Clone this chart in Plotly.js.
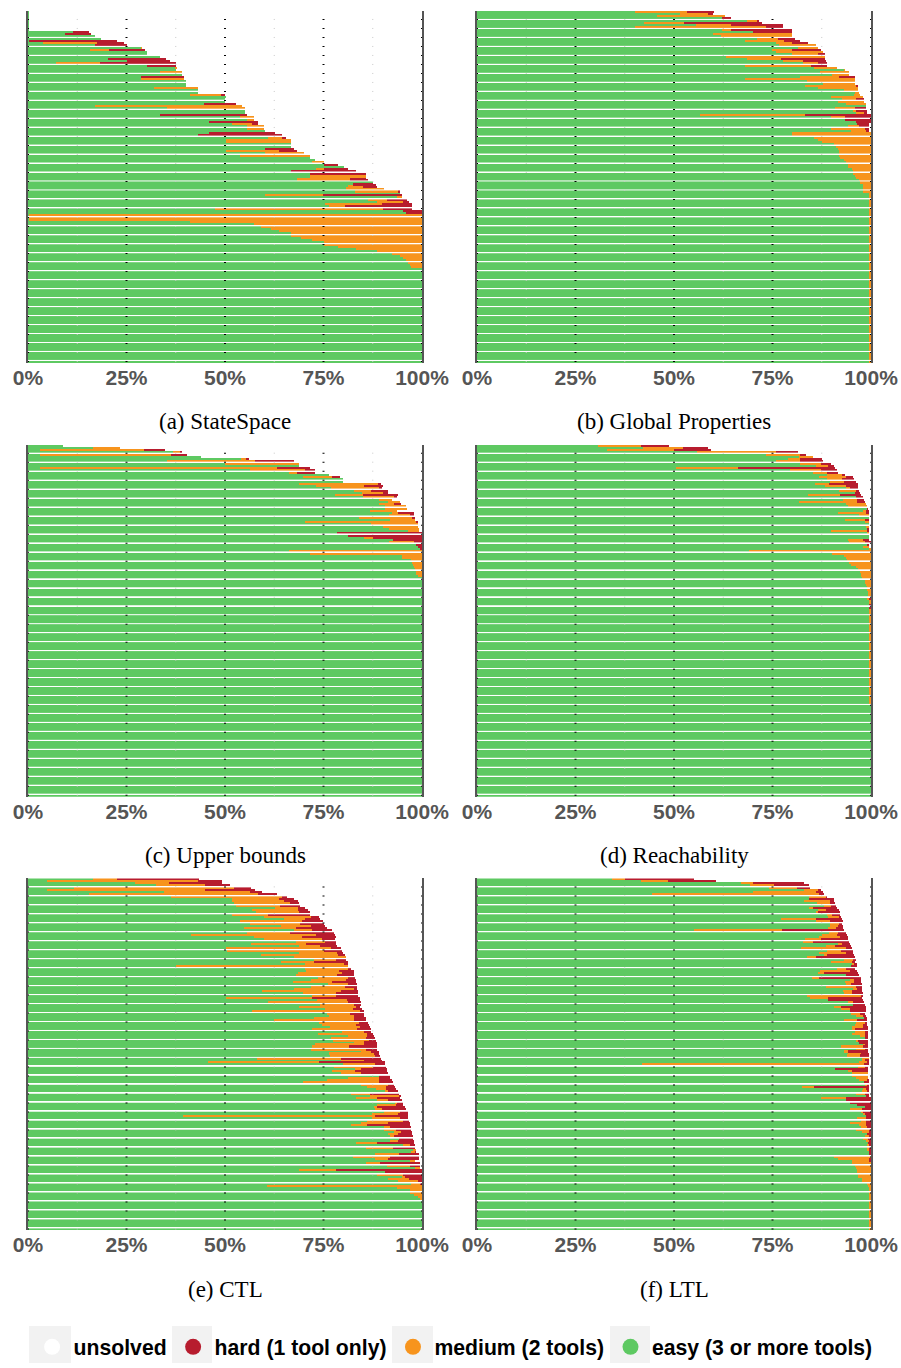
<!DOCTYPE html>
<html><head><meta charset="utf-8">
<script src="https://cdn.plot.ly/plotly-3.0.1.min.js"></script>
<style>html,body{margin:0;padding:0;background:#fff;}#chart{width:901px;height:1368px;}</style>
</head><body><div id="chart"></div>
<script>
const panelTitles = ['(a) StateSpace','(b) Global Properties','(c) Upper bounds','(d) Reachability','(e) CTL','(f) LTL'];
const legendLabels = ['unsolved','hard (1 tool only)','medium (2 tools)','easy (3 or more tools)'];
const xTickValues = [0,25,50,75,100];
const xTickLabels = ['0%','25%','50%','75%','100%'];

// (a) StateSpace
const stateSpaceEasy = [
0.3,0.3,0.3,0.3,0.3,0.3,0.3,0.3,0.3,11.3,
9.3,16.9,18.4,0.3,3.8,16.9,28.8,15.7,30.1,30.1,
33.4,20.2,25.0,7.0,30.1,37.5,37.5,33.4,39.0,28.8,
28.6,40.0,40.0,40.0,32.1,43.1,43.1,41.0,50.2,49.9,
49.9,44.6,16.9,35.2,55.0,55.0,33.4,53.7,55.5,45.9,
51.7,55.5,55.5,60.1,45.9,43.1,60.8,50.2,50.2,66.7,
66.7,60.1,50.2,60.1,53.7,71.5,72.8,72.0,75.0,80.1,
73.0,66.7,71.5,71.5,71.5,68.2,87.5,82.4,81.1,80.6,
82.9,94.3,60.1,93.6,86.2,88.5,75.3,76.3,47.4,95.3,
95.9,0.3,0.3,0.3,41.0,57.3,59.1,61.6,63.6,66.7,
66.7,69.2,72.0,75.0,75.0,78.8,83.2,88.7,92.3,94.3,
95.3,95.9,96.4,96.9,97.1,100,100,100,100,100,
100,100,100,100,100,100,100,100,100,100,
100,100,100,100,100,100,100,100,100,100,
100,100,100,100,100,100,100,100,100,100,
100,100,100,100,100,100,100];
const stateSpaceMedium = [
0,0,0,0,0,0,0,0,0,0,
0,0,0,0,13.6,0,0.2,4.8,0,0,
0,0,0,11.2,0,0.2,0,5.6,0,0,
10.9,0,0,0,11.0,0,0,7.9,0,0,
0,0,37.3,19.8,0,0,0,3.6,1.8,0,
5.1,4.3,4.3,0,0,0,3.6,16.5,16.5,0,
0,0,13.4,9.9,17.8,0,0,3.0,0,0,
2.0,0,0,14.2,14.2,13.4,0,0,3.8,9.7,
11.2,0,14.7,1.2,4.8,6.8,14.5,4.1,42.6,0,
0,99.7,99.7,99.7,59.0,42.7,40.9,38.4,36.4,33.3,
33.3,30.8,28.0,25.0,25.0,21.2,16.8,11.3,7.7,5.7,
4.7,4.1,3.6,3.1,2.9,0,0,0,0,0,
0,0,0,0,0,0,0,0,0,0,
0,0,0,0,0,0,0,0,0,0,
0,0,0,0,0,0,0,0,0,0,
0,0,0,0,0,0,0];
const stateSpaceHard = [
0,0,0,0,0,0,0,0,0,4.1,
6.6,0,0,22.2,6.9,8.1,0,9.1,0,0,
0,14.7,11.0,19.3,7.4,0,0,0,0,10.7,
0,0,0,0,0,0,0,1.0,0,0,
0,8.1,0,0,0,0,22.1,0,0,12.4,
1.5,0,0,0,16.7,21.3,1.0,0,0,0,
0,7.3,4.6,0,0,0,0,0,3.6,0,
6.1,16.5,14.2,0,0,4.6,0,5.8,3.8,0,
0.2,0,20.0,0,5.1,1.3,7.6,17.0,7.4,4.7,
4.1,0,0,0,0,0,0,0,0,0,
0,0,0,0,0,0,0,0,0,0,
0,0,0,0,0,0,0,0,0,0,
0,0,0,0,0,0,0,0,0,0,
0,0,0,0,0,0,0,0,0,0,
0,0,0,0,0,0,0,0,0,0,
0,0,0,0,0,0,0];

// (b) Global Properties
const globalEasy = [
40.2,51.6,45.7,62.2,68.6,42.4,55.6,40.2,62.2,70.1,
59.9,62.0,71.1,68.0,75.9,76.7,81.5,74.9,75.9,80.0,
63.2,68.6,77.7,82.8,68.0,85.5,93.2,87.1,90.0,82.0,
68.0,83.8,87.8,83.3,86.6,93.2,95.9,95.7,89.9,92.6,
91.6,93.7,98.7,90.9,95.4,96.2,56.6,89.9,93.4,96.2,
96.4,94.2,89.9,94.9,80.0,80.0,85.5,86.6,87.6,90.6,
91.1,91.6,91.9,91.9,91.9,92.1,93.2,93.7,94.2,94.2,
95.2,95.4,95.4,95.9,96.2,97.0,97.2,98.0,98.0,98.0,
98.0,99.7,99.7,99.7,99.7,99.7,99.7,99.7,99.7,99.7,
99.7,99.7,99.7,99.7,99.7,99.7,99.7,99.7,99.7,99.7,
99.7,99.7,99.7,99.7,99.7,99.7,99.7,99.7,99.7,99.7,
99.7,99.7,99.7,99.7,99.7,99.7,99.7,99.7,99.7,99.7,
99.7,99.7,99.7,99.7,99.7,99.7,99.7,99.7,99.7,99.7,
99.7,99.7,99.7,99.7,99.7,99.7,99.7,99.7,99.7,99.7,
99.7,99.7,99.7,99.7,99.7,99.7,99.7,99.7,99.7,99.7,
99.7,99.7,99.7,99.7,99.7,99.7,99.7];
const globalMedium = [
13.1,7.1,17.3,0,2.7,10.2,8.9,33.2,2.3,0,
20.1,18.0,5.3,9.9,4.1,9.4,5.1,5.1,11.9,6.6,
25.1,8.6,5.1,3.8,16.8,5.9,0.2,7.3,4.4,9.9,
27.9,12.1,8.1,13.1,10.1,3.5,1.1,1.5,8.1,3.6,
6.6,5.0,0,5.0,0.8,2.0,26.7,3.5,0,0,
0,2.8,8.6,3.8,20.0,20.0,14.5,13.4,12.4,9.4,
8.9,8.4,8.1,8.1,8.1,7.9,6.8,6.3,5.8,5.8,
4.8,4.6,4.6,4.1,3.8,3.0,2.8,2.0,2.0,2.0,
2.0,0.3,0.3,0.3,0.3,0.3,0.3,0.3,0.3,0.3,
0.3,0.3,0.3,0.3,0.3,0.3,0.3,0.3,0.3,0.3,
0.3,0.3,0.3,0.3,0.3,0.3,0.3,0.3,0.3,0.3,
0.3,0.3,0.3,0.3,0.3,0.3,0.3,0.3,0.3,0.3,
0.3,0.3,0.3,0.3,0.3,0.3,0.3,0.3,0.3,0.3,
0.3,0.3,0.3,0.3,0.3,0.3,0.3,0.3,0.3,0.3,
0.3,0.3,0.3,0.3,0.3,0.3,0.3,0.3,0.3,0.3,
0.3,0.3,0.3,0.3,0.3,0.3,0.3];
const globalHard = [
6.9,1.2,0,2.3,0.3,19.8,13.2,4.3,15.5,9.9,
0,0,4.3,4.1,4.0,0,0,7.3,0,1.7,
0,11.1,5.8,2.2,4.0,0,0,0,0,4.0,
0,0,0,0.3,0,0,0,0,0,2.0,
0,0,0,2.8,2.8,0.8,16.7,6.6,6.6,3.8,
3.3,2.7,1.2,1.0,0,0,0,0,0,0,
0,0,0,0,0,0,0,0,0,0,
0,0,0,0,0,0,0,0,0,0,
0,0,0,0,0,0,0,0,0,0,
0,0,0,0,0,0,0,0,0,0,
0,0,0,0,0,0,0,0,0,0,
0,0,0,0,0,0,0,0,0,0,
0,0,0,0,0,0,0,0,0,0,
0,0,0,0,0,0,0,0,0,0,
0,0,0,0,0,0,0,0,0,0,
0,0,0,0,0,0,0];

// (c) Upper bounds
const upperEasy = [
8.9,16.5,3.0,36.8,3.0,43.8,54.1,35.4,49.9,68.7,
3.0,56.3,66.2,76.3,69.7,79.9,79.9,68.7,73.0,76.8,
82.7,84.7,77.8,84.9,89.0,91.3,89.0,90.5,90.5,86.7,
92.3,91.5,83.9,92.0,70.2,87.0,90.0,91.5,96.4,78.3,
81.1,85.4,92.6,91.5,98.6,98.9,99.4,66.2,71.5,94.8,
94.8,97.1,97.4,97.6,97.9,98.1,98.4,98.4,98.9,100,
100,100,100,100,100,100,100,100,100,100,
100,100,100,100,100,100,100,100,100,100,
100,100,100,100,100,100,100,100,100,100,
100,100,100,100,100,100,100,100,100,100,
100,100,100,100,100,100,100,100,100,100,
100,100,100,100,100,100,100,100,100,100,
100,100,100,100,100,100,100,100,100,100,
100,100,100,100,100,100,100,100,100,100,
100,100,100,100,100,100,100,100,100,100,
100,100,100,100,100,100,100];
const upperMedium = [
0,6.8,26.4,1.9,33.2,0,1.4,22.3,18.8,0,
60.1,13.9,2.0,0,7.4,0,0,20.3,12.2,12.2,
4.3,5.3,7.1,7.9,3.3,3.0,3.8,5.4,5.6,6.9,
1.5,5.4,13.7,6.1,28.4,11.9,8.9,7.7,2.8,0,
0,2.1,0,6.4,0,0,0,33.8,28.5,5.2,
5.2,2.9,2.6,2.4,2.1,1.9,1.6,1.6,1.1,0,
0,0,0,0,0,0,0,0,0,0,
0,0,0,0,0,0,0,0,0,0,
0,0,0,0,0,0,0,0,0,0,
0,0,0,0,0,0,0,0,0,0,
0,0,0,0,0,0,0,0,0,0,
0,0,0,0,0,0,0,0,0,0,
0,0,0,0,0,0,0,0,0,0,
0,0,0,0,0,0,0,0,0,0,
0,0,0,0,0,0,0,0,0,0,
0,0,0,0,0,0,0];
const upperHard = [
0,0,5.3,0.5,4.1,0,0.5,9.7,0,0,
8.4,2.6,4.6,0,2.0,0,0,0.5,4.8,0.8,
4.3,1.3,8.9,0.8,0,0,1.8,0,0,0,
4.1,1.0,0.5,0,0.3,0,0,0,0,21.7,
18.9,12.5,7.4,2.1,1.4,1.1,0.6,0,0,0,
0,0,0,0,0,0,0,0,0,0,
0,0,0,0,0,0,0,0,0,0,
0,0,0,0,0,0,0,0,0,0,
0,0,0,0,0,0,0,0,0,0,
0,0,0,0,0,0,0,0,0,0,
0,0,0,0,0,0,0,0,0,0,
0,0,0,0,0,0,0,0,0,0,
0,0,0,0,0,0,0,0,0,0,
0,0,0,0,0,0,0,0,0,0,
0,0,0,0,0,0,0,0,0,0,
0,0,0,0,0,0,0];

// (d) Reachability
const reachEasy = [
30.8,42.2,33.1,55.9,73.4,81.7,79.0,75.9,82.0,86.1,
50.5,79.5,85.3,88.8,86.8,88.8,89.6,85.8,88.3,93.7,
91.9,95.9,84.0,96.2,92.9,81.7,93.7,94.2,99.0,98.2,
91.6,97.0,99.5,93.4,98.5,99.5,98.7,99.2,89.9,99.2,
99.7,99.7,94.2,94.4,99.0,98.0,99.5,69.1,90.1,93.2,
93.7,93.9,94.4,94.9,96.2,96.7,97.2,97.5,97.5,97.7,
98.5,98.5,98.7,99.0,99.0,99.2,99.2,99.2,99.2,99.5,
99.5,99.5,99.5,99.5,99.5,99.5,99.7,99.7,99.7,99.7,
99.7,99.7,99.7,99.7,99.7,99.7,99.7,99.7,99.7,99.7,
99.7,99.7,99.7,99.7,99.7,99.7,99.7,99.7,99.7,99.7,
99.7,99.7,99.7,99.7,99.7,99.7,99.7,99.7,99.7,99.7,
99.7,99.7,99.7,99.7,99.7,99.7,100,100,100,100,
100,100,100,100,100,100,100,100,100,100,
100,100,100,100,100,100,100,100,100,100,
100,100,100,100,100,100,100,100,100,100,
100,100,100,100,100,100,100];
const reachMedium = [
10.9,10.1,16.9,20.0,8.6,3.6,3.0,6.1,5.3,3.0,
15.8,7.8,3.5,3.8,6.9,3.8,3.5,3.5,5.4,1.0,
4.3,0,8.1,0,3.5,14.7,5.0,4.8,0,0.5,
7.1,2.5,0,5.1,1.0,0,0.8,0,9.3,0.5,
0,0,3.7,4.1,0,1.5,0.5,30.9,9.9,6.8,
6.3,6.1,5.6,5.1,3.8,3.3,2.8,2.5,2.5,2.3,
1.5,1.5,1.3,1.0,1.0,0.8,0.8,0.8,0.5,0.5,
0.5,0.2,0,0.5,0.5,0.5,0.3,0.3,0.3,0.3,
0.3,0.3,0.3,0.3,0.3,0.3,0.3,0.3,0.3,0.3,
0.3,0.3,0.3,0.3,0.3,0.3,0.3,0.3,0.3,0.3,
0.3,0.3,0.3,0.3,0.3,0.3,0.3,0.3,0.3,0.3,
0.3,0.3,0.3,0.3,0.3,0.3,0,0,0,0,
0,0,0,0,0,0,0,0,0,0,
0,0,0,0,0,0,0,0,0,0,
0,0,0,0,0,0,0,0,0,0,
0,0,0,0,0,0,0];
const reachHard = [
7.1,6.4,9.4,5.6,1.5,0,5.6,5.8,2.6,1.5,
24.6,4.1,2.8,0.8,1.7,3.1,3.1,7.4,3.0,2.0,
0.8,1.3,5.4,1.8,1.8,2.1,0,0,0.2,0.8,
0.8,0,0,1.0,0,0,0,0.5,0.5,0,
0,0,1.8,1.5,0.7,0.2,0,0,0,0,
0,0,0,0,0,0,0,0,0,0,
0,0,0,0,0,0,0,0,0.3,0,
0,0.3,0.5,0,0,0,0,0,0,0,
0,0,0,0,0,0,0,0,0,0,
0,0,0,0,0,0,0,0,0,0,
0,0,0,0,0,0,0,0,0,0,
0,0,0,0,0,0,0,0,0,0,
0,0,0,0,0,0,0,0,0,0,
0,0,0,0,0,0,0,0,0,0,
0,0,0,0,0,0,0,0,0,0,
0,0,0,0,0,0,0];

// (e) CTL
const ctlEasy = [
16.5,4.8,27.1,32.4,11.6,4.8,34.4,15.4,36.2,51.9,
51.7,52.2,52.7,62.6,56.8,57.8,51.9,59.8,65.1,53.7,
56.3,64.1,54.7,67.4,55.5,41.3,57.3,59.8,67.9,56.5,
68.7,50.2,50.4,68.7,59.1,67.4,72.5,64.1,70.2,37.5,
70.2,70.5,68.4,67.9,73.5,71.7,67.2,76.1,71.7,67.4,
59.3,69.7,72.2,50.2,73.3,60.8,74.0,68.7,75.3,56.8,
75.8,76.3,72.5,62.4,73.8,74.5,76.6,72.2,79.6,73.5,
81.1,76.8,77.3,82.7,72.8,72.0,71.7,84.4,76.3,76.6,
58.0,79.4,45.6,79.9,77.6,82.9,77.1,79.4,89.0,81.1,
75.8,69.7,84.4,86.0,88.2,90.5,81.9,86.7,83.2,88.7,
93.3,88.5,88.0,88.0,90.3,87.2,39.3,87.2,86.0,84.4,
82.1,90.3,90.3,92.8,91.3,91.8,94.1,91.8,83.2,95.3,
85.7,97.6,97.1,88.0,82.4,88.0,96.9,85.7,91.0,98.1,
68.7,90.5,88.7,95.1,91.3,93.8,97.1,60.6,93.6,96.9,
96.9,97.9,98.9,99.4,100,100,100,100,100,100,
100,100,100,100,100,100,100];
const ctlMedium = [
6.0,38.3,8.6,12.4,40.6,40.0,21.9,42.9,28.2,11.7,
13.4,14.2,11.2,5.8,11.6,10.9,8.9,11.9,5.1,15.8,
12.7,7.6,13.2,4.8,10.9,31.7,12.2,14.7,7.6,14.0,
5.3,26.6,24.6,9.6,19.5,13.2,5.6,8.4,9.9,43.6,
10.9,8.4,11.2,10.4,7.6,8.9,9.9,5.0,8.7,15.5,
20.1,8.4,5.9,22.0,7.6,20.3,8.7,14.5,7.1,27.4,
5.8,6.4,10.2,20.3,10.1,8.7,7.6,11.2,5.8,12.5,
4.9,8.9,9.2,2.5,12.6,9.4,14.0,2.6,11.4,11.4,
21.4,6.0,28.2,8.1,9.9,1.5,5.8,5.0,0,7.9,
13.2,19.3,6.9,4.8,2.6,0.8,4.8,7.6,5.5,2.6,
0.3,4.8,0.5,1.8,4.0,6.6,48.7,7.1,9.3,6.9,
3.9,1.7,3.0,1.8,2.5,1.0,0,2.0,5.5,1.6,
6.9,1.0,1.3,6.1,9.4,3.3,1.2,3.6,5.9,1.6,
9.4,0,6.6,0.5,5.3,5.1,2.3,39.4,6.4,3.1,
3.1,2.1,1.1,0.6,0,0,0,0,0,0,
0,0,0,0,0,0,0];
const ctlHard = [
20.8,6.1,13.5,6.4,4.3,12.7,3.0,4.8,1.3,3.8,
3.3,2.3,5.1,1.8,2.6,2.8,10.7,2.1,3.8,5.3,
6.0,3.6,7.9,4.9,11.2,4.8,8.6,3.3,2.6,7.6,
4.3,2.6,4.6,1.6,1.8,0,2.5,8.6,1.0,0,
0.8,3.8,3.1,4.4,1.8,2.6,6.1,2.3,3.0,0.5,
4.3,5.6,5.6,12.0,3.3,3.3,1.7,1.0,2.3,1.0,
3.6,2.7,3.0,3.0,2.3,3.3,2.5,3.6,1.6,1.5,
1.7,2.3,1.7,3.3,3.3,7.3,3.0,2.0,1.3,1.3,
10.1,4.4,16.7,2.5,3.3,6.6,8.1,6.9,2.8,3.0,
3.3,3.6,1.5,2.3,2.5,2.5,7.4,0.3,5.6,3.5,
1.5,2.0,7.1,6.1,2.1,2.6,8.4,2.1,1.3,5.6,
10.9,5.1,3.8,2.8,3.6,4.8,3.5,4.1,9.2,1.2,
5.5,0,0.2,5.1,7.4,7.9,0,10.1,2.5,0,
21.9,9.5,4.7,4.4,3.4,1.1,0.6,0,0,0,
0,0,0,0,0,0,0,0,0,0,
0,0,0,0,0,0,0];

// (f) LTL
const ltlEasy = [
34.3,41.7,67.0,69.3,74.1,83.0,70.1,44.5,84.3,84.3,
83.0,86.3,88.1,84.3,86.6,86.1,88.8,89.1,77.2,86.1,
89.6,89.6,89.1,55.1,89.4,87.6,86.8,83.3,82.8,91.6,
88.6,82.2,88.8,86.8,88.3,83.8,93.2,89.9,95.2,94.9,
91.4,87.1,86.6,93.7,85.0,94.7,93.4,93.7,88.6,95.4,
92.9,93.2,83.8,84.5,89.1,94.2,95.4,90.6,92.4,94.7,
94.9,96.2,98.2,93.2,96.2,95.9,95.2,95.2,95.9,95.2,
97.2,98.5,96.2,97.0,98.2,92.4,96.2,93.2,94.2,93.9,
97.7,97.7,97.0,41.9,96.7,90.9,94.2,95.2,95.2,96.2,
97.0,98.2,98.7,82.5,98.2,97.7,96.2,98.7,87.3,93.7,
94.7,96.5,98.5,94.7,97.5,98.0,98.7,96.5,97.5,94.7,
97.0,97.5,96.2,97.7,99.0,98.5,98.0,98.7,99.2,99.0,
99.2,99.2,99.5,99.5,90.6,91.6,95.2,95.2,95.9,96.2,
96.5,96.5,96.7,96.7,97.7,97.7,99.0,99.2,99.5,99.7,
99.7,99.7,99.7,99.7,99.7,99.7,99.7,99.7,99.7,99.7,
99.7,99.7,99.7,99.7,99.7,99.7,99.7];
const ltlMedium = [
3.3,6.8,3.1,6.1,7.1,3.6,16.0,42.3,4.3,0,
6.6,3.3,1.8,1.0,2.0,0.5,1.3,2.8,8.9,3.5,
2.3,2.0,2.0,22.3,2.2,3.8,5.3,4.0,2.5,1.0,
2.3,11.5,3.6,6.9,0.5,2.3,2.2,5.5,0.5,0,
2.3,7.6,1.5,0,1.8,1.0,2.3,1.2,7.6,1.1,
2.3,2.0,13.9,4.6,0,1.2,0,1.8,2.3,0,
2.3,1.8,0,3.3,2.3,2.1,2.8,0.7,2.6,3.3,
1.3,0,0.5,0,0.5,5.6,2.3,1.0,3.3,3.3,
1.8,0.8,2.0,56.3,1.8,0,1.0,4.0,4.0,3.0,
2.2,0,0.5,3.0,0.5,1.5,2.3,0,6.4,0,
0,0,0,3.0,0.5,0.5,0,2.2,1.2,4.0,
1.7,1.5,3.3,1.8,0,1.0,1.2,0.8,0,0.5,
0.5,0.5,0,0.2,9.4,8.1,4.5,4.8,4.1,3.8,
3.5,3.5,3.3,3.3,2.3,2.3,1.0,0.8,0.5,0.3,
0.3,0.3,0.3,0.3,0.3,0.3,0.3,0.3,0.3,0.3,
0.3,0.3,0.3,0.3,0.3,0.3,0.3];
const ltlHard = [
17.5,12.2,12.9,8.9,3.3,0.7,1.7,1.3,0.2,6.3,
1.0,1.3,1.2,6.1,3.3,5.5,2.0,0.5,6.5,3.3,
0.7,1.3,1.8,15.8,2.1,2.5,2.1,6.9,9.1,2.1,
4.0,1.5,3.0,1.7,6.9,9.8,0.8,0.5,0.8,1.6,
2.2,1.8,8.6,3.3,10.7,1.8,1.8,2.8,1.5,1.2,
2.5,2.8,0.3,8.6,8.9,2.8,3.1,6.3,4.0,4.0,
1.3,0.7,0.8,2.5,0.5,1.0,1.2,3.3,0.7,0.7,
0.7,0.7,2.5,2.2,0.5,1.2,0.7,5.0,2.0,2.3,
0,1.0,0.5,1.3,0.7,8.3,4.0,0,0,0,
0.5,1.3,0.5,14.0,0.8,0.3,1.2,1.0,6.3,6.3,
5.3,3.5,1.5,2.3,2.0,1.5,1.3,1.3,1.3,1.3,
1.3,1.0,0.5,0.5,1.0,0.5,0.8,0.5,0.8,0.5,
0.3,0.3,0.5,0.3,0,0.3,0.3,0,0,0,
0,0,0,0,0,0,0,0,0,0,
0,0,0,0,0,0,0,0,0,0,
0,0,0,0,0,0,0];

const panels = [
  {easy: stateSpaceEasy, medium: stateSpaceMedium, hard: stateSpaceHard},
  {easy: globalEasy, medium: globalMedium, hard: globalHard},
  {easy: upperEasy, medium: upperMedium, hard: upperHard},
  {easy: reachEasy, medium: reachMedium, hard: reachHard},
  {easy: ctlEasy, medium: ctlMedium, hard: ctlHard},
  {easy: ltlEasy, medium: ltlMedium, hard: ltlHard}
];

const COLORS = {unsolved:'#ffffff', hard:'#b71c2e', medium:'#f7941d', easy:'#5ec962'};
const FIG_W = 901, FIG_H = 1368;
const colX = [[28, 422], [477, 871]];
const rowTop = [11, 446, 881];
const plotH = 353;
const captionY = [423, 858, 1293];
const tickFont = {family:'Liberation Sans, Arial, sans-serif', size:21, color:'#555', weight:'bold'};
const majorGridX = [0, 25, 50, 75, 100];
const minorGridX = [12.5, 37.5, 62.5, 87.5];

const traces = [];
const layout = {
  width: FIG_W, height: FIG_H,
  margin: {l:0, r:0, t:0, b:0},
  paper_bgcolor: '#fff', plot_bgcolor: '#fff',
  barmode: 'stack', bargap: 0, bargroupgap: 0,
  hovermode: false,
  showlegend: true,
  legend: {
    orientation: 'h', x: 0.504, xanchor: 'center',
    y: 1 - 1351/FIG_H, yanchor: 'middle',
    font: {family:'Liberation Sans, Arial, sans-serif', size:21.2, color:'#000', weight:'bold'},
    bgcolor: 'rgba(0,0,0,0)', itemwidth: 33, traceorder: 'normal', itemclick: false
  },
  annotations: [],
  shapes: []
};

panels.forEach((s, p) => {
  const col = p % 2, row = Math.floor(p / 2);
  const sfx = p === 0 ? '' : String(p + 1);
  const n = s.easy.length;
  // row layout: 2px bars, a 1px gap after every fourth bar
  const rowPos = s.easy.map((_, i) => 2 * i + Math.floor(i / 4) + 1);
  const unsolved = s.easy.map((e, i) => Math.max(0, +(100 - e - s.medium[i] - s.hard[i]).toFixed(2)));
  const parts = [['easy', s.easy], ['medium', s.medium], ['hard', s.hard], ['unsolved', unsolved]];
  parts.forEach(([k, vals]) => {
    traces.push({
      type: 'bar', orientation: 'h', name: k,
      x: vals, y: rowPos, width: 2.06,
      xaxis: 'x' + sfx, yaxis: 'y' + sfx,
      marker: {color: COLORS[k], line: {width: 0}},
      showlegend: false, hoverinfo: 'skip'
    });
  });
  const [x0, x1] = colX[col];
  const top = rowTop[row];
  layout['xaxis' + sfx] = {
    domain: [x0 / FIG_W, x1 / FIG_W],
    anchor: 'y' + sfx,
    range: [0, 100], fixedrange: true,
    tickmode: 'array', tickvals: xTickValues, ticktext: xTickLabels,
    tickfont: tickFont, ticks: '',
    showgrid: false, zeroline: false, showline: false
  };
  layout['yaxis' + sfx] = {
    domain: [1 - (top + plotH) / FIG_H, 1 - top / FIG_H],
    anchor: 'x' + sfx,
    range: [plotH, 0], fixedrange: true,
    showticklabels: false, ticks: '', showgrid: false, zeroline: false,
    showline: true, linecolor: '#555', linewidth: 2, mirror: true
  };
  // thin white separators between groups of four rows
  for (let g = 0; 4 * g + 4 < n; g++) {
    const yy = 9 * g + 8.5;
    layout.shapes.push({type: 'line', xref: 'x' + sfx, yref: 'y' + sfx, x0: 0, x1: 100, y0: yy, y1: yy,
      line: {color: '#ffffff', width: 1}, layer: 'above'});
  }
  // grid lines that only show through the separators
  minorGridX.forEach(gx => layout.shapes.push({type: 'line', xref: 'x' + sfx, yref: 'y' + sfx,
    x0: gx, x1: gx, y0: 8, y1: plotH, line: {color: '#c8c8c8', width: 1, dash: '1px,8px'}, layer: 'above'}));
  majorGridX.forEach(gx => layout.shapes.push({type: 'line', xref: 'x' + sfx, yref: 'y' + sfx,
    x0: gx, x1: gx, y0: 8, y1: plotH, line: {color: '#000000', width: 2, dash: '1px,8px'}, layer: 'above'}));
  layout.annotations.push({
    text: panelTitles[p], xref: 'paper', yref: 'paper',
    x: (x0 + x1) / 2 / FIG_W, y: 1 - captionY[row] / FIG_H,
    xanchor: 'center', yanchor: 'middle', showarrow: false,
    font: {family: 'Liberation Serif, Times New Roman, serif', size: 23, color: '#000'}
  });
});

// legend entries (circle markers)
const legendKeys = ['unsolved', 'hard', 'medium', 'easy'];
legendKeys.forEach((k, i) => {
  traces.push({
    type: 'scatter', mode: 'markers', name: legendLabels[i],
    x: [null], y: [null], xaxis: 'x', yaxis: 'y',
    marker: {symbol: 'circle', size: 17, color: COLORS[k], line: {width: 0}},
    showlegend: true, hoverinfo: 'skip'
  });
});

// light grey boxes behind legend markers
const legendBoxX = [[29, 71], [172, 212], [392, 433], [610, 650]];
legendBoxX.forEach(([a, b]) => {
  layout.shapes.push({
    type: 'rect', xref: 'paper', yref: 'paper', layer: 'below',
    x0: a / FIG_W, x1: b / FIG_W, y0: 1 - 1367 / FIG_H, y1: 1 - 1330 / FIG_H,
    fillcolor: '#f2f2f2', line: {width: 0}
  });
});

Plotly.newPlot('chart', traces, layout, {displayModeBar: false, responsive: false});
</script>
</body></html>
